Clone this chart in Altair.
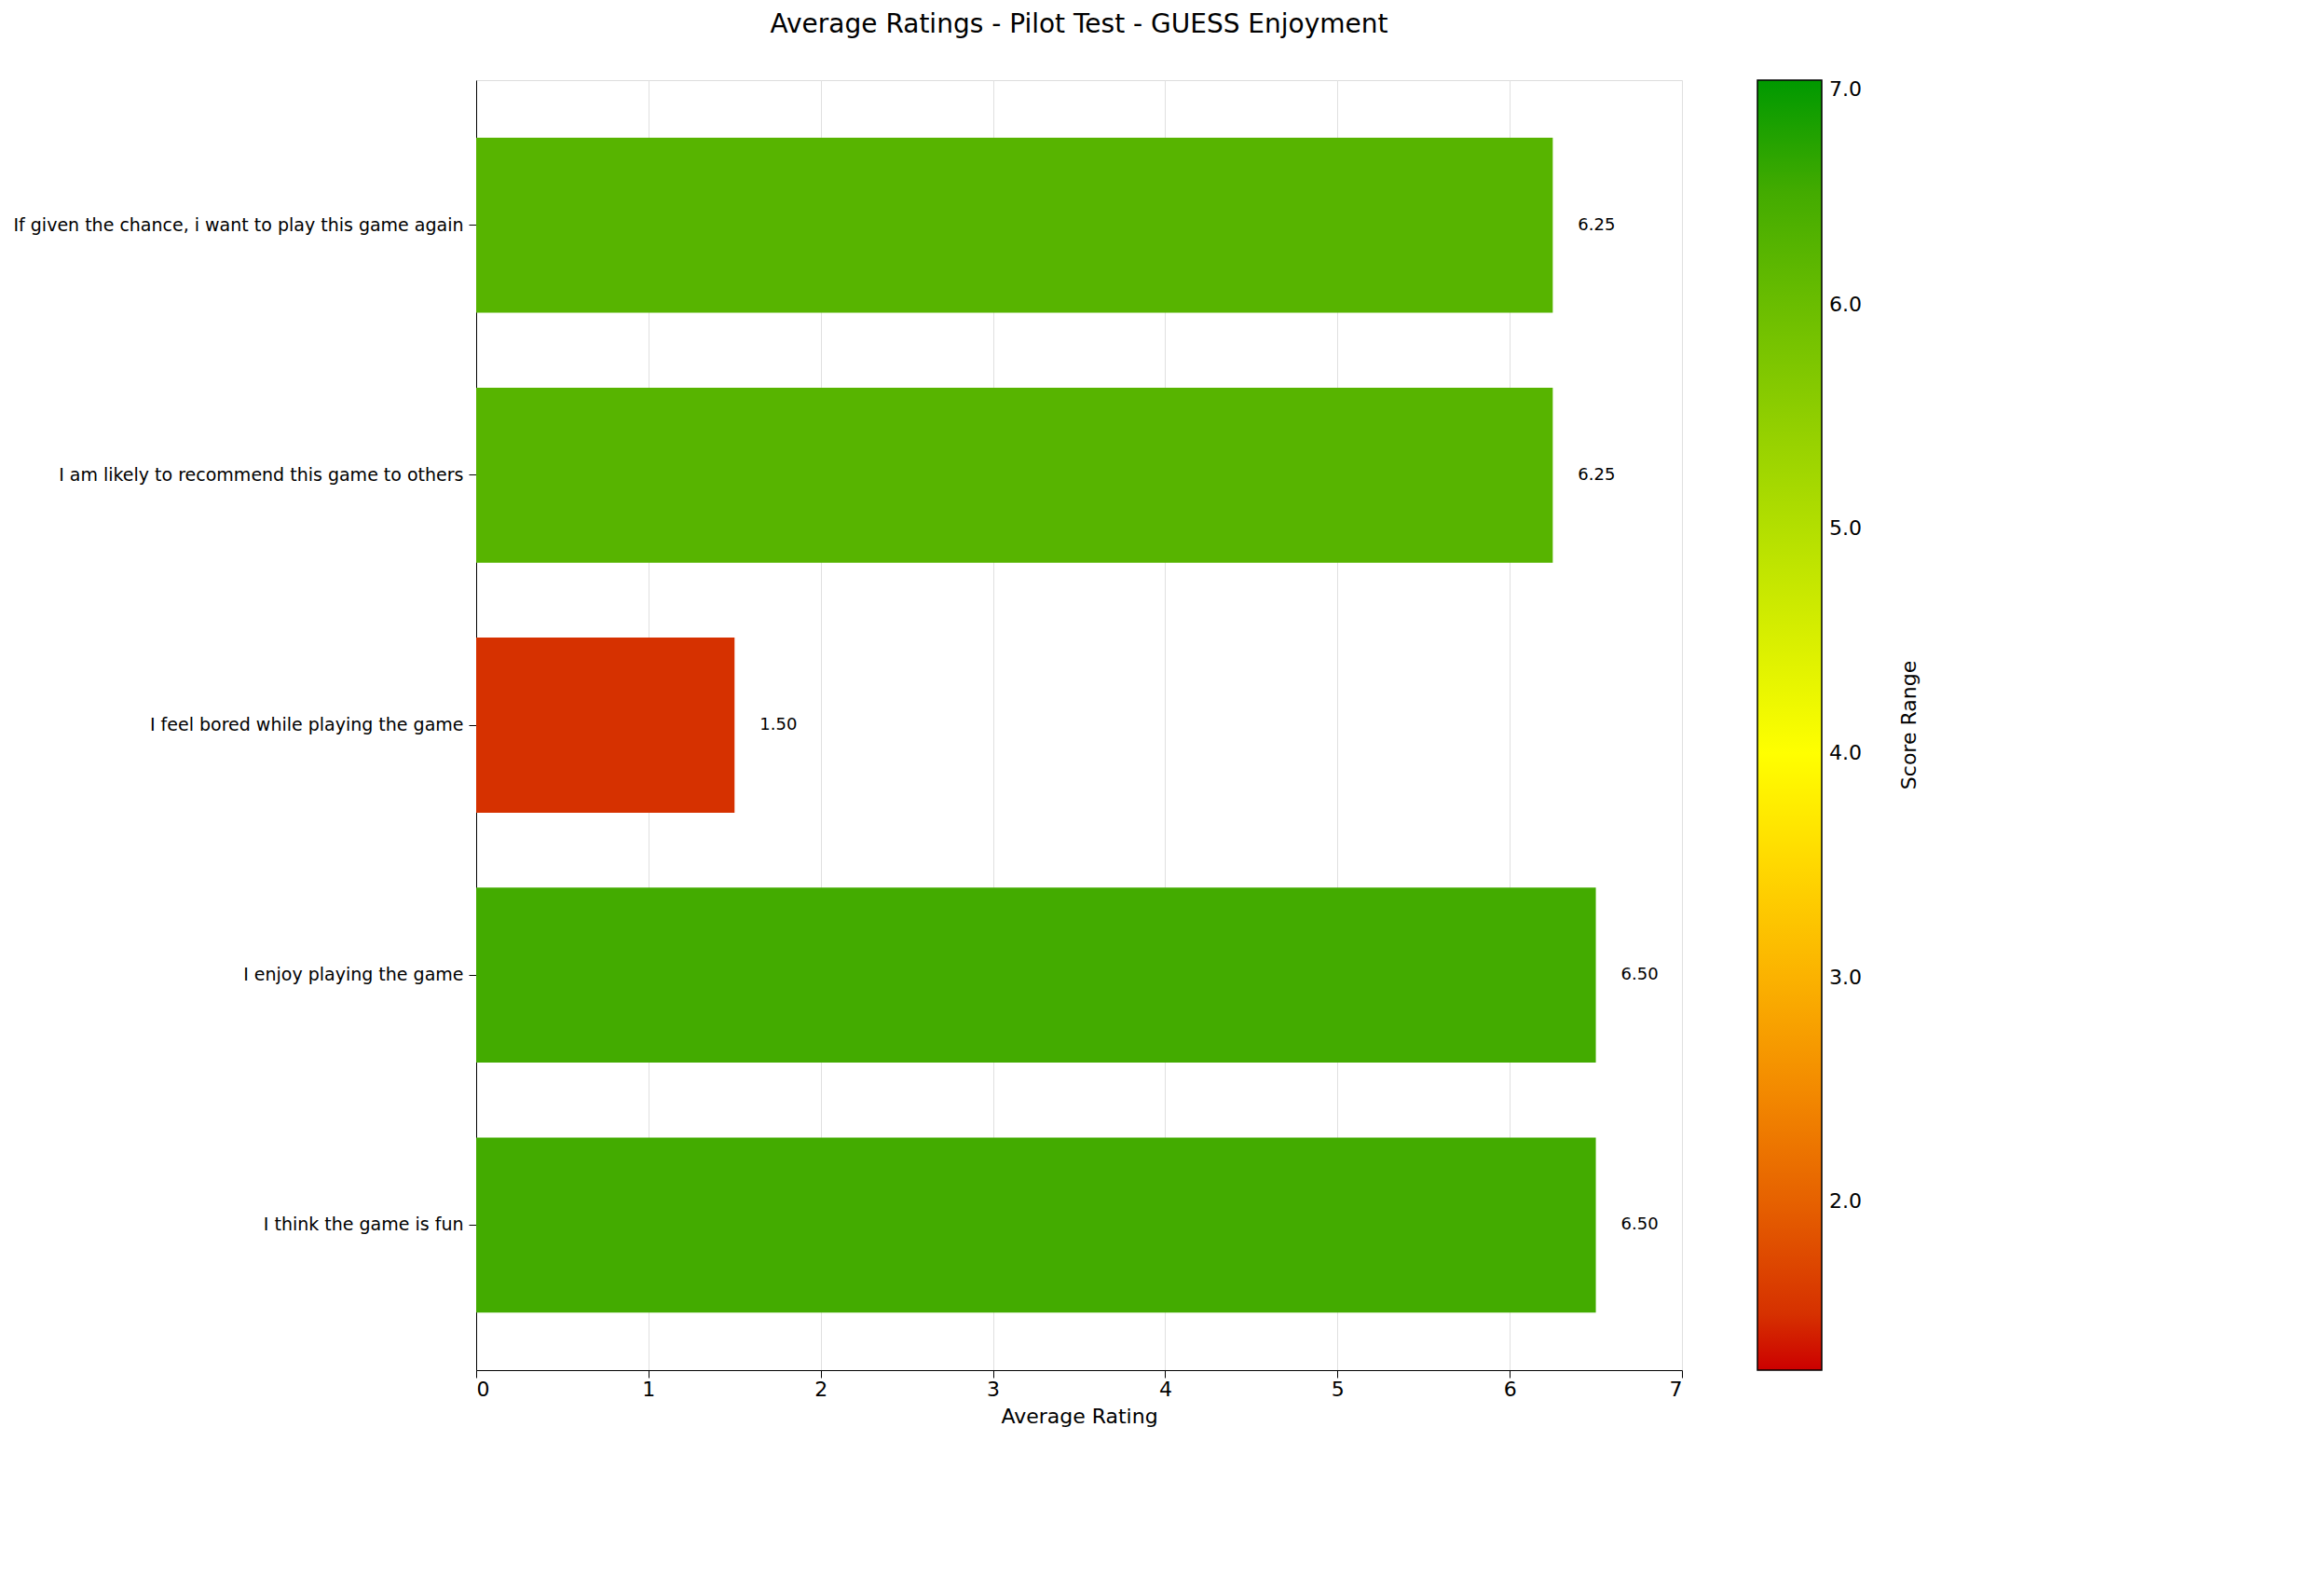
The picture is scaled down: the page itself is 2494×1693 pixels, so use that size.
import altair as alt
import pandas as pd

questions = [
    "If given the chance, i want to play this game again",
    "I am likely to recommend this game to others ",
    "I feel bored while playing the game",
    "I enjoy playing the game",
    "I think the game is fun",
]
ratings = [6.25, 6.25, 1.50, 6.50, 6.50]

df = pd.DataFrame({"Question": questions, "Rating": ratings})
df["Label"] = df["Rating"].map(lambda v: f"{v:.2f}")

W, H = 1294, 1384

color_scale = alt.Scale(domain=[1.25, 4, 7], range=["#cc0000", "#ffff00", "#009900"])
y_enc = alt.Y("Question:N", sort=questions, title=None,
              scale=alt.Scale(paddingInner=0.3, paddingOuter=0.23),
              axis=alt.Axis(labelFontSize=19, labelColor="black", labelLimit=900,
                            tickColor="black", tickSize=8, domainColor="black", labelPadding=6))
x_enc = alt.X("Rating:Q", title="Average Rating",
              scale=alt.Scale(domain=[0, 7], nice=False),
              axis=alt.Axis(values=[0, 1, 2, 3, 4, 5, 6, 7], format="d", labelFontSize=22,
                            titleFontSize=22, titleFontWeight="normal", labelColor="black",
                            tickColor="black", tickSize=8, domainColor="black",
                            gridColor="#e0e0e0", titlePadding=8))

bars = alt.Chart(df).mark_bar().encode(
    x=x_enc,
    y=y_enc,
    color=alt.Color("Rating:Q", scale=color_scale, title=None,
                    legend=alt.Legend(values=[2, 3, 4, 5, 6, 7], gradientLength=H,
                                      gradientThickness=69, gradientStrokeColor="black",
                                      gradientStrokeWidth=1.5, labelFontSize=22,
                                      labelColor="black", offset=81, labelOffset=8)),
)
labels = alt.Chart(df).mark_text(align="left", dx=27, fontSize=18, color="black").encode(
    x="Rating:Q",
    y=alt.Y("Question:N", sort=questions),
    text="Label:N",
)
cbar_title = alt.Chart(pd.DataFrame({"t": ["Score Range"]})).mark_text(
    angle=270, fontSize=22, color="black", baseline="middle", align="center"
).encode(x=alt.value(W + 244), y=alt.value(H / 2), text="t:N")

chart = (bars + labels + cbar_title).properties(
    width=W, height=H,
    title=alt.TitleParams("Average Ratings - Pilot Test - GUESS Enjoyment",
                          fontSize=28, fontWeight="normal", offset=45),
).configure_view(stroke="black", strokeWidth=1.5).configure(font="DejaVu Sans")

chart.save("out.html", embed_options={"renderer": "svg", "actions": False})
